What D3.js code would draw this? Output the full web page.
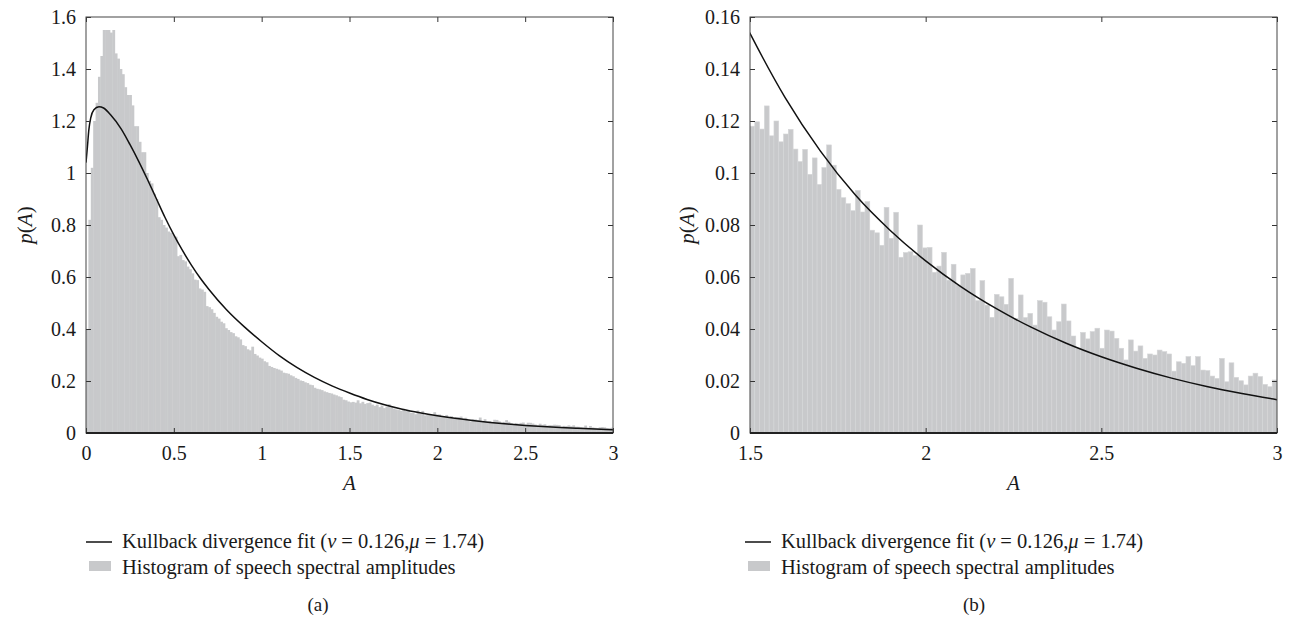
<!DOCTYPE html>
<html>
<head>
<meta charset="utf-8">
<script src="https://cdn.jsdelivr.net/npm/d3@7"></script>
<style>
  body { margin: 0; background: #fff; }
  text { font-family: "Liberation Serif", "Times New Roman", serif; fill: #1a1a1a; }
</style>
</head>
<body>
<script>
// histogram of speech spectral amplitudes, 220 bins of width 3/220 over A in [0, 3]
const binWidth = 3 / 220

// bins for A in [0, 1.5)
const histLow = [
  0.40, 0.82, 1.02, 1.20, 1.27, 1.37, 1.45, 1.55, 1.55, 1.55,
  1.54, 1.55, 1.46, 1.44, 1.40, 1.38, 1.33, 1.30, 1.30, 1.26,
  1.18, 1.18, 1.12, 1.08, 1.08, 1.00, 0.97, 0.96, 0.92, 0.90,
  0.83, 0.82, 0.80, 0.79, 0.775, 0.77, 0.76, 0.755, 0.68, 0.685,
  0.665, 0.66, 0.64, 0.63, 0.614, 0.59, 0.588, 0.556, 0.552, 0.543,
  0.488, 0.484, 0.476, 0.462, 0.447, 0.44, 0.428, 0.422, 0.403, 0.396,
  0.388, 0.384, 0.372, 0.368, 0.36, 0.338, 0.334, 0.322, 0.318, 0.332,
  0.304, 0.298, 0.29, 0.286, 0.276, 0.272, 0.258, 0.254, 0.25, 0.247,
  0.244, 0.24, 0.232, 0.23, 0.228, 0.222, 0.218, 0.212, 0.208, 0.202,
  0.2, 0.195, 0.192, 0.186, 0.184, 0.174, 0.17, 0.168, 0.165, 0.16,
  0.157, 0.154, 0.152, 0.148, 0.145, 0.141, 0.138, 0.128, 0.126, 0.121
]

// bins for A in [1.5, 3]
const histHigh = [
  0.118, 0.1197, 0.1169, 0.1258, 0.1143, 0.120, 0.112, 0.115, 0.1168, 0.1092,
  0.1044, 0.1091, 0.0995, 0.1058, 0.0956, 0.1021, 0.1108, 0.103, 0.0937, 0.0905,
  0.0882, 0.0855, 0.0933, 0.085, 0.089, 0.078, 0.077, 0.0722, 0.0868, 0.0749,
  0.0849, 0.0676, 0.0694, 0.0697, 0.0682, 0.080, 0.0712, 0.0714, 0.0618, 0.0642,
  0.0695, 0.0588, 0.0649, 0.0569, 0.0608, 0.0614, 0.0633, 0.0509, 0.0586, 0.0492,
  0.0445, 0.0533, 0.0524, 0.0495, 0.0595, 0.0441, 0.0531, 0.0444, 0.046, 0.0415,
  0.0509, 0.0503, 0.0447, 0.0396, 0.0428, 0.0496, 0.0431, 0.0373, 0.0326, 0.0387,
  0.0362, 0.039, 0.0403, 0.0326, 0.0396, 0.0392, 0.0364, 0.0326, 0.0281, 0.0358,
  0.0315, 0.0335, 0.0287, 0.0304, 0.030, 0.0319, 0.0313, 0.0304, 0.0238, 0.0274,
  0.0268, 0.0294, 0.0259, 0.0294, 0.0242, 0.024, 0.0219, 0.021, 0.0287, 0.0197,
  0.027, 0.0214, 0.0201, 0.0185, 0.0219, 0.023, 0.0217, 0.0187, 0.0178, 0.0204
]

// Kullback divergence fit
const fitA = [0, 0.008, 0.016, 0.027, 0.045, 0.074, 0.10, 0.141, 0.2, 0.25,
  0.3, 0.35, 0.4, 0.45, 0.5, 0.55, 0.6, 0.65, 0.7, 0.8,
  0.9, 1.0, 1.1, 1.2, 1.3, 1.4, 1.5, 1.6, 1.7, 1.8,
  1.9, 2.0, 2.1, 2.2, 2.3, 2.4, 2.5, 2.6, 2.7, 2.8,
  2.9, 3.0]
const fitP = [1.04, 1.10, 1.165, 1.212, 1.243, 1.255, 1.25, 1.223, 1.17, 1.11,
  1.045, 0.975, 0.902, 0.829, 0.762, 0.701, 0.646, 0.596, 0.552, 0.474,
  0.409, 0.351, 0.2976, 0.2523, 0.2139, 0.1813, 0.1537, 0.129, 0.1085, 0.0915,
  0.0778, 0.0662, 0.0563, 0.0479, 0.0407, 0.0345, 0.0293, 0.0249, 0.0211, 0.0179,
  0.0152, 0.0128]

const xTicksA = [0, 0.5, 1, 1.5, 2, 2.5, 3]
const xLabelsA = ['0', '0.5', '1', '1.5', '2', '2.5', '3']
const yTicksA = [0, 0.2, 0.4, 0.6, 0.8, 1, 1.2, 1.4, 1.6]
const yLabelsA = ['0', '0.2', '0.4', '0.6', '0.8', '1', '1.2', '1.4', '1.6']
const xTicksB = [1.5, 2, 2.5, 3]
const xLabelsB = ['1.5', '2', '2.5', '3']
const yTicksB = [0, 0.02, 0.04, 0.06, 0.08, 0.1, 0.12, 0.14, 0.16]
const yLabelsB = ['0', '0.02', '0.04', '0.06', '0.08', '0.1', '0.12', '0.14', '0.16']

const width = 1289
const height = 621
const plotTop = 17
const plotBottom = 433
const fontSize = 20
const legendSize = 20.5

let svg = d3.select('body')
  .append('svg')
  .attr('width', width)
  .attr('height', height)

const fit = fitA.map((a, i) => ({ a: a, p: fitP[i] }))

function drawPanel(cfg) {
  let x = d3.scaleLinear().domain(cfg.xDomain).range([cfg.left, cfg.right])
  let y = d3.scaleLinear().domain(cfg.yDomain).range([plotBottom, plotTop])

  let clipId = 'clip-' + cfg.tag
  svg.append('clipPath').attr('id', clipId)
    .append('rect')
    .attr('x', cfg.left).attr('y', plotTop)
    .attr('width', cfg.right - cfg.left).attr('height', plotBottom - plotTop)

  let g = svg.append('g')
  let plot = g.append('g').attr('clip-path', `url(#${clipId})`)

  // histogram bars
  let bins = cfg.hist.map((v, i) => ({ a0: cfg.histStart + i * binWidth, v: v }))
  plot.selectAll('rect.bar')
    .data(bins)
    .join('rect')
      .attr('class', 'bar')
      .attr('x', d => x(d.a0))
      .attr('y', d => y(d.v))
      .attr('width', d => x(d.a0 + binWidth) - x(d.a0) + cfg.overlap)
      .attr('height', d => y(0) - y(d.v))
      .attr('fill', '#c8c9cb')
      .attr('stroke', cfg.seam)
      .attr('stroke-width', cfg.seam === 'none' ? 0 : 0.6)

  // fit curve
  let line = d3.line()
    .x(d => x(d.a))
    .y(d => y(d.p))
    .curve(d3.curveMonotoneX)
  plot.append('path')
    .datum(fit.filter(d => d.a >= cfg.xDomain[0] - 0.15))
    .attr('d', line)
    .attr('fill', 'none')
    .attr('stroke', '#111')
    .attr('stroke-width', 1.5)

  // axes with inward ticks on all four sides
  let xb = d3.axisBottom(x).tickValues(cfg.xTicks).tickFormat((d, i) => cfg.xLabels[i])
    .tickSize(-5).tickPadding(13)
  let yl = d3.axisLeft(y).tickValues(cfg.yTicks).tickFormat((d, i) => cfg.yLabels[i])
    .tickSize(-5).tickPadding(10)
  let xt = d3.axisTop(x).tickValues(cfg.xTicks).tickFormat('').tickSize(-5)
  let yr = d3.axisRight(y).tickValues(cfg.yTicks).tickFormat('').tickSize(-5)

  let axes = [
    g.append('g').attr('transform', `translate(0,${plotBottom})`).call(xb),
    g.append('g').attr('transform', `translate(${cfg.left},0)`).call(yl),
    g.append('g').attr('transform', `translate(0,${plotTop})`).call(xt),
    g.append('g').attr('transform', `translate(${cfg.right},0)`).call(yr)
  ]
  axes.forEach(a => {
    a.select('.domain').remove()
    a.selectAll('.tick line').attr('stroke', '#333').attr('stroke-width', 1)
    a.selectAll('.tick text')
      .attr('fill', '#1a1a1a')
      .style('font-family', '"Liberation Serif", serif')
      .style('font-size', fontSize + 'px')
  })

  // frame
  g.append('rect')
    .attr('x', cfg.left).attr('y', plotTop)
    .attr('width', cfg.right - cfg.left).attr('height', plotBottom - plotTop)
    .attr('fill', 'none').attr('stroke', '#444').attr('stroke-width', 1)
  g.append('line')
    .attr('x1', cfg.left).attr('x2', cfg.right)
    .attr('y1', plotBottom).attr('y2', plotBottom)
    .attr('stroke', '#222').attr('stroke-width', 2)

  // axis titles
  let mid = (cfg.left + cfg.right) / 2
  g.append('text')
    .attr('x', mid).attr('y', 490)
    .attr('text-anchor', 'middle')
    .style('font-size', (fontSize + 1) + 'px')
    .style('font-style', 'italic')
    .text('A')

  let yt = g.append('text')
    .attr('transform', `translate(${cfg.left - cfg.yTitleGap},225) rotate(-90)`)
    .attr('text-anchor', 'middle')
    .style('font-size', (fontSize + 1) + 'px')
  yt.append('tspan').style('font-style', 'italic').text('p')
  yt.append('tspan').text('(')
  yt.append('tspan').style('font-style', 'italic').text('A')
  yt.append('tspan').text(')')

  // legend
  let lx = cfg.legendX
  g.append('line')
    .attr('x1', lx).attr('x2', lx + 26)
    .attr('y1', 542).attr('y2', 542)
    .attr('stroke', '#111').attr('stroke-width', 1.5)
  let t1 = g.append('text')
    .attr('x', lx + 36).attr('y', 548)
    .style('font-size', legendSize + 'px')
  t1.append('tspan').text('Kullback divergence fit (')
  t1.append('tspan').style('font-style', 'italic').text('ν')
  t1.append('tspan').text(' = 0.126,')
  t1.append('tspan').style('font-style', 'italic').text('μ')
  t1.append('tspan').text(' = 1.74)')

  g.append('rect')
    .attr('x', lx + 3).attr('y', 561)
    .attr('width', 22).attr('height', 10)
    .attr('fill', '#c8c9cb')
  g.append('text')
    .attr('x', lx + 36).attr('y', 574)
    .style('font-size', legendSize + 'px')
    .text('Histogram of speech spectral amplitudes')

  g.append('text')
    .attr('x', cfg.captionX).attr('y', 611)
    .attr('text-anchor', 'middle')
    .style('font-size', (fontSize - 1) + 'px')
    .text(cfg.caption)
}

drawPanel({
  tag: 'a',
  left: 86, right: 613,
  xDomain: [0, 3], yDomain: [0, 1.6],
  hist: histLow.concat(histHigh), histStart: 0,
  overlap: 0.4, seam: 'none',
  xTicks: xTicksA, xLabels: xLabelsA,
  yTicks: yTicksA, yLabels: yLabelsA,
  yTitleGap: 54,
  legendX: 86, captionX: 318, caption: '(a)'
})

drawPanel({
  tag: 'b',
  left: 750, right: 1277,
  xDomain: [1.5, 3], yDomain: [0, 0.16],
  hist: histHigh, histStart: 1.5,
  overlap: 0, seam: '#d5d6d8',
  xTicks: xTicksB, xLabels: xLabelsB,
  yTicks: yTicksB, yLabels: yLabelsB,
  yTitleGap: 56,
  legendX: 745, captionX: 974, caption: '(b)'
})
</script>
</body>
</html>
